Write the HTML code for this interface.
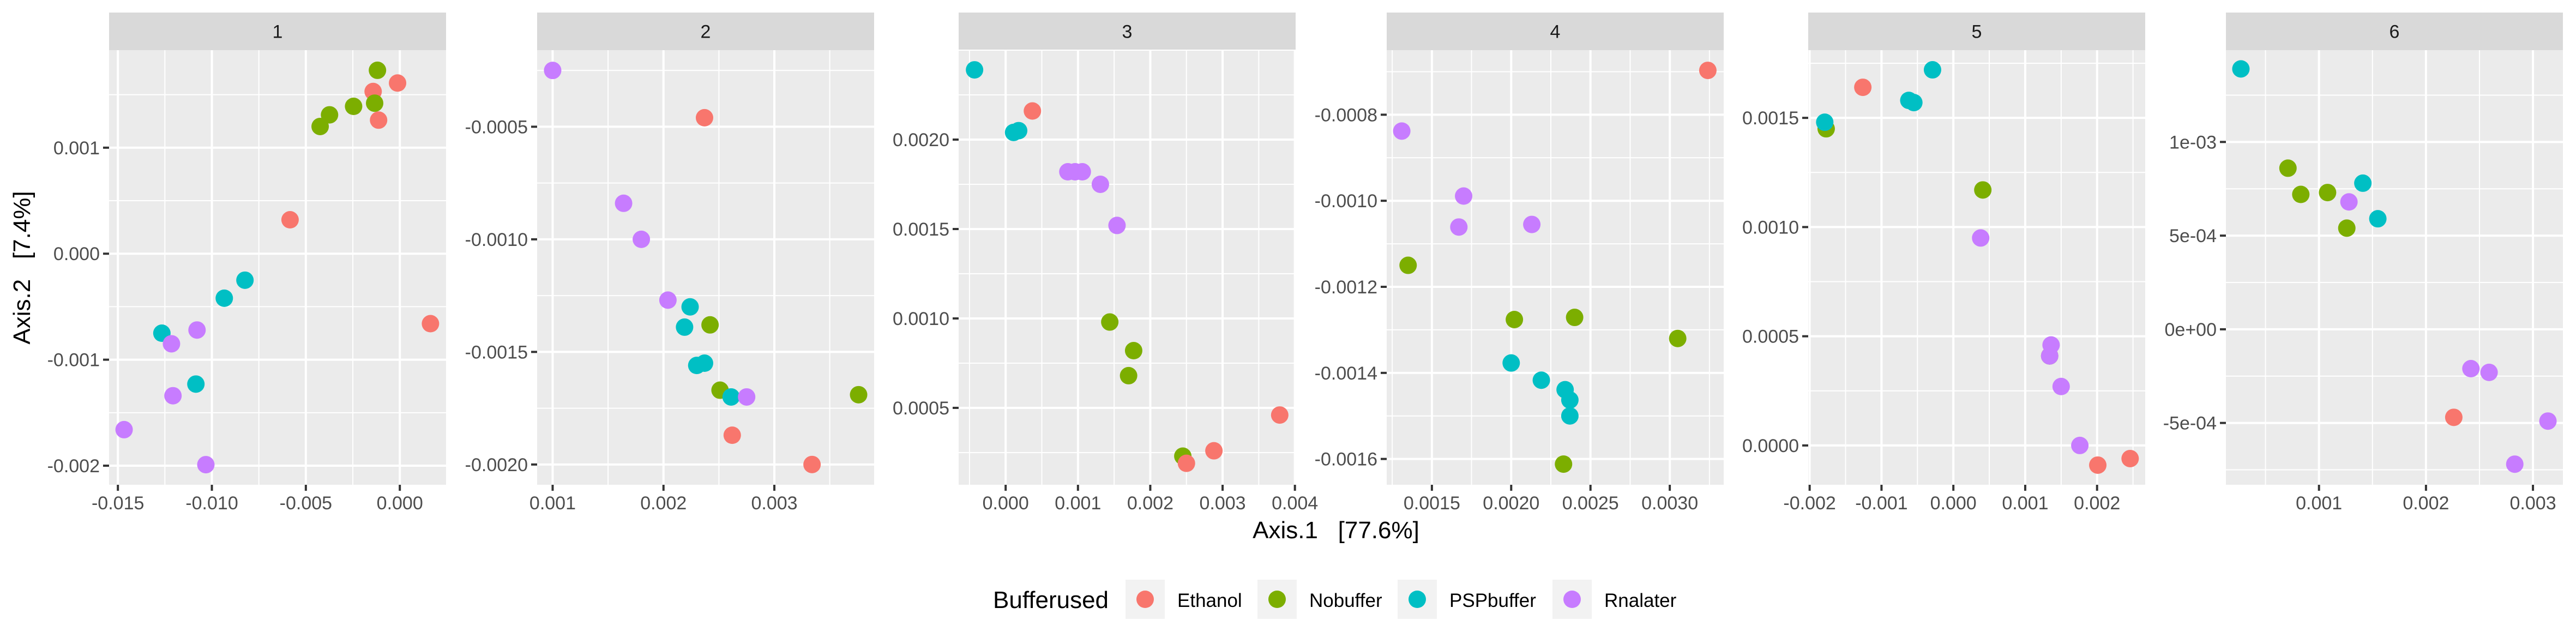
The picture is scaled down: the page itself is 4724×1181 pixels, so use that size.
<!DOCTYPE html>
<html><head><meta charset="utf-8"><style>
html,body{margin:0;padding:0;background:#fff;}
svg{display:block;font-family:"Liberation Sans",sans-serif;}
.pre{white-space:pre;}
</style></head><body>
<svg id="chart" width="4724" height="1181" viewBox="0 0 4724 1181" xmlns="http://www.w3.org/2000/svg">
<g id="panels"></g>
<text class="pre" xml:space="preserve" x="2450" y="987" text-anchor="middle" font-size="44" fill="#000">Axis.1   [77.6%]</text>
<text class="pre" xml:space="preserve" transform="translate(55,491) rotate(-90)" text-anchor="middle" font-size="44" fill="#000">Axis.2   [7.4%]</text>
<g id="legend">
<text x="1821" y="1115" font-size="44" fill="#000">Bufferused</text>
</g>
</svg>
<script>
const groupNames = ["Ethanol","Nobuffer","PSPbuffer","Rnalater"];
const groupColors = ["#F8766D","#7CAE00","#00BFC4","#C77CFF"];
const facetLabels = ["1","2","3","4","5","6"];

// Panel 1
const p1x = [-0.00119,-0.00012,-0.00142,-0.00246,-0.00134,-0.00374,-0.00424,-0.00113,-0.00584,-0.00824,-0.00934,-0.01079,-0.01266,-0.01215,0.00163,-0.01085,-0.01207,-0.01467,-0.01032];
const p1y = [0.00173,0.00161,0.00153,0.00139,0.00142,0.00131,0.00120,0.00126,0.00032,-0.00025,-0.00042,-0.00072,-0.00075,-0.00085,-0.00066,-0.00123,-0.00134,-0.00166,-0.00199];
const p1g = [1,0,0,1,1,1,1,0,0,2,2,3,2,3,0,2,3,3,3];
// Panel 2
const p2x = [0.00100,0.00237,0.00164,0.00180,0.00204,0.00224,0.00219,0.00242,0.00230,0.00237,0.00251,0.00261,0.00275,0.00376,0.00262,0.00334];
const p2y = [-0.00025,-0.00046,-0.00084,-0.00100,-0.00127,-0.00130,-0.00139,-0.00138,-0.00156,-0.00155,-0.00167,-0.00170,-0.00170,-0.00169,-0.00187,-0.00200];
const p2g = [3,0,3,3,3,2,2,1,2,2,1,2,3,1,0,0];
// Panel 3
const p3x = [-0.00043,0.00037,0.00011,0.00018,0.00086,0.00096,0.00106,0.00131,0.00154,0.00144,0.00177,0.00170,0.00379,0.00288,0.00245,0.00250];
const p3y = [0.00239,0.00216,0.00204,0.00205,0.00182,0.00182,0.00182,0.00175,0.00152,0.00098,0.00082,0.00068,0.00046,0.00026,0.00023,0.00019];
const p3g = [2,0,2,2,3,3,3,3,3,1,1,1,0,0,1,0];
// Panel 4
const p4x = [0.00324,0.00131,0.00170,0.00167,0.00213,0.00135,0.00202,0.00240,0.00305,0.00200,0.00219,0.00234,0.00237,0.00237,0.00233];
const p4y = [-0.000697,-0.000838,-0.000989,-0.001061,-0.001055,-0.001150,-0.001276,-0.001271,-0.001320,-0.001377,-0.001417,-0.001439,-0.001463,-0.001500,-0.001612];
const p4g = [0,3,3,3,3,1,1,1,1,2,2,2,2,2,1];
// Panel 5
const p5x = [-0.00029,-0.00126,-0.00062,-0.00055,-0.00177,-0.00179,0.00041,0.00038,0.00134,0.00136,0.00134,0.00150,0.00176,0.00201,0.00246];
const p5y = [0.00172,0.00164,0.00158,0.00157,0.00145,0.00148,0.00117,0.00095,0.00041,0.00046,0.00041,0.00027,0.00000,-0.00009,-0.00006];
const p5g = [2,0,2,2,1,2,1,3,1,3,3,3,3,0,0];
// Panel 6
const p6x = [0.00027,0.00071,0.00083,0.00108,0.00141,0.00128,0.00155,0.00126,0.00242,0.00259,0.00226,0.00314,0.00283];
const p6y = [0.00139,0.00086,0.00072,0.00073,0.00078,0.00068,0.00059,0.00054,-0.00021,-0.00023,-0.00047,-0.00049,-0.00072];
const p6g = [2,1,1,1,2,3,2,1,3,3,0,3,3];

// axis domains and ticks
const xDomains = [[-0.01547,0.00246],[0.00086,0.0039],[-0.00065,0.00401],[0.001215,0.00334],[-0.00202,0.00267],[0.00013,0.00328]];
const yDomains = [[-0.00218,0.00192],[-0.00209,-0.00016],[0.00007,0.0025],[-0.00166,-0.00065],[-0.00018,0.00181],[-0.00083,0.00149]];
const xTicks = [[-0.015,-0.01,-0.005,0],[0.001,0.002,0.003],[0,0.001,0.002,0.003,0.004],[0.0015,0.002,0.0025,0.003],[-0.002,-0.001,0,0.001,0.002],[0.001,0.002,0.003]];
const xTickLabels = [["-0.015","-0.010","-0.005","0.000"],["0.001","0.002","0.003"],["0.000","0.001","0.002","0.003","0.004"],["0.0015","0.0020","0.0025","0.0030"],["-0.002","-0.001","0.000","0.001","0.002"],["0.001","0.002","0.003"]];
const yTicks = [[-0.002,-0.001,0,0.001],[-0.002,-0.0015,-0.001,-0.0005],[0.0005,0.001,0.0015,0.002],[-0.0016,-0.0014,-0.0012,-0.001,-0.0008],[0,0.0005,0.001,0.0015],[-0.0005,0,0.0005,0.001]];
const yTickLabels = [["-0.002","-0.001","0.000","0.001"],["-0.0020","-0.0015","-0.0010","-0.0005"],["0.0005","0.0010","0.0015","0.0020"],["-0.0016","-0.0014","-0.0012","-0.0010","-0.0008"],["0.0000","0.0005","0.0010","0.0015"],["-5e-04","0e+00","5e-04","1e-03"]];

const panelLeft = [200,985,1758,2543,3316,4082];
const panelW = 618, plotTop = 92, plotBot = 889, stripTop = 23;
const NS = "http://www.w3.org/2000/svg";
const allX = [p1x,p2x,p3x,p4x,p5x,p6x], allY=[p1y,p2y,p3y,p4y,p5y,p6y], allG=[p1g,p2g,p3g,p4g,p5g,p6g];

function mk(tag, attrs, parent){ const e=document.createElementNS(NS,tag); for(const k in attrs) e.setAttribute(k,attrs[k]); parent.appendChild(e); return e; }

const root = document.getElementById('panels');
for(let p=0;p<6;p++){
  const L=panelLeft[p], R=L+panelW;
  const [x0,x1]=xDomains[p], [y0,y1]=yDomains[p];
  const sx=v=>L+(v-x0)/(x1-x0)*panelW;
  const sy=v=>plotBot-(v-y0)/(y1-y0)*(plotBot-plotTop);
  const g=mk('g',{},root);
  
  
  const bg=mk('rect',{x:L,y:plotTop,width:panelW,height:plotBot-plotTop,fill:'#EBEBEB'},g);
  
  
  const strip=mk('rect',{x:L,y:stripTop,width:panelW,height:plotTop-stripTop,fill:'#D9D9D9'},g);
  
  
  const st=mk('text',{x:L+panelW/2,y:(stripTop+plotTop)/2+12,'text-anchor':'middle','font-size':34,fill:'#1A1A1A'},g);
  st.textContent=facetLabels[p];
  
  
  const xt=xTicks[p], yt=yTicks[p];
  const dx=xt.length>1?xt[1]-xt[0]:0, dy=yt[1]-yt[0];
  for(let v=xt[0]-dx/2; v<=x1+1e-12; v+=dx/2){ if(v<x0) continue; const isMaj=xt.some(t=>Math.abs(t-v)<dx*1e-3); if(isMaj) continue;
    const ln=mk('line',{x1:sx(v),x2:sx(v),y1:plotTop,y2:plotBot,stroke:'#fff','stroke-width':2},g);
    
     }
  for(let v=yt[0]-dy/2; v<=y1+1e-12; v+=dy/2){ if(v<y0) continue; const isMaj=yt.some(t=>Math.abs(t-v)<dy*1e-3); if(isMaj) continue;
    const ln=mk('line',{y1:sy(v),y2:sy(v),x1:L,x2:R,stroke:'#fff','stroke-width':2},g);
    
     }
  xt.forEach((v,i)=>{
    const X=sx(v);
    const ln=mk('line',{x1:X,x2:X,y1:plotTop,y2:plotBot,stroke:'#fff','stroke-width':4},g);
    
    
    const tk=mk('line',{x1:X,x2:X,y1:plotBot,y2:plotBot+11,stroke:'#333','stroke-width':4},g);
    
    
    const tl=mk('text',{x:X,y:934,'text-anchor':'middle','font-size':34,fill:'#4D4D4D'},g);
    tl.textContent=xTickLabels[p][i];
    
    
  });
  yt.forEach((v,i)=>{
    const Y=sy(v);
    const ln=mk('line',{x1:L,x2:R,y1:Y,y2:Y,stroke:'#fff','stroke-width':4},g);
    
    
    const tk=mk('line',{x1:L-11,x2:L,y1:Y,y2:Y,stroke:'#333','stroke-width':4},g);
    
    
    const tl=mk('text',{x:L-17,y:Y+12,'text-anchor':'end','font-size':34,fill:'#4D4D4D'},g);
    tl.textContent=yTickLabels[p][i];
    
    
  });
  const xs=allX[p], ys=allY[p], gs=allG[p];
  for(let i=0;i<xs.length;i++){
    const c=mk('circle',{cx:sx(xs[i]),cy:sy(ys[i]),r:16,fill:groupColors[gs[i]]},g);
    
    
  }
}
const leg=document.getElementById('legend');
const keyX=[2064,2306,2563,2847];
groupNames.forEach((n,i)=>{
  const kg=mk('g',{},leg);
  
  
  mk('rect',{x:keyX[i],y:1063,width:72,height:72,fill:'#F2F2F2'},kg);
  mk('circle',{cx:keyX[i]+36,cy:1099,r:16,fill:groupColors[i]},kg);
  const t=mk('text',{x:keyX[i]+95,y:1113,'font-size':35,fill:'#000'},kg);
  t.textContent=n;
});
</script>
</body></html>
